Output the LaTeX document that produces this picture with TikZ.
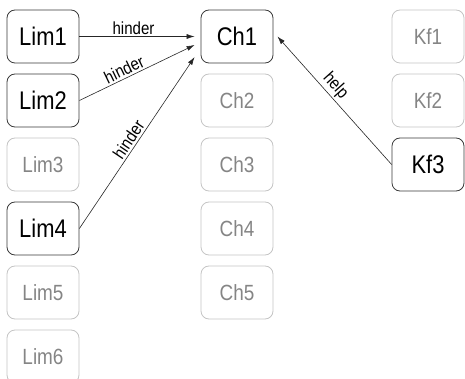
\documentclass[tikz,border=0pt]{standalone}
\usepackage{fontspec}
\setmainfont{Liberation Sans}[FakeStretch=0.86]
\usetikzlibrary{arrows.meta}
\definecolor{activeline}{HTML}{3A3A3A}
\definecolor{idleline}{HTML}{C4C4C4}
\definecolor{idletext}{HTML}{858585}
\tikzset{
  box/.style={rounded corners=8pt, minimum width=72pt, minimum height=53pt,
    inner sep=0pt, line width=0.8pt},
  active/.style={box, draw=activeline, text=black,
    font=\fontsize{25.5}{28}\selectfont},
  idle/.style={box, draw=idleline, text=idletext,
    font=\fontsize{22}{25}\selectfont},
  link/.style={draw=black!85, line width=0.6pt,
    -{Latex[length=8pt,width=5pt]}},
  tag/.style={font=\fontsize{17.5}{19}\selectfont, inner sep=2pt}
}
\begin{document}
\begin{tikzpicture}[x=1pt,y=-1pt]
\useasboundingbox (0,0) rectangle (465,379);
% left column
\node[active] (lim1) at (43,36.5)  {Lim1};
\node[active] (lim2) at (43,100.5) {Lim2};
\node[idle]   (lim3) at (43,164.5) {Lim3};
\node[active] (lim4) at (43,228.5) {Lim4};
\node[idle]   (lim5) at (43,292.5) {Lim5};
\node[idle]   (lim6) at (43,356.5) {Lim6};
% middle column
\node[active] (ch1) at (237,36.5)  {Ch1};
\node[idle]   (ch2) at (237,100.5) {Ch2};
\node[idle]   (ch3) at (237,164.5) {Ch3};
\node[idle]   (ch4) at (237,228.5) {Ch4};
\node[idle]   (ch5) at (237,292.5) {Ch5};
% right column
\node[idle]   (kf1) at (428,36.5)  {Kf1};
\node[idle]   (kf2) at (428,100.5) {Kf2};
\node[active] (kf3) at (428,164.5) {Kf3};
% relations
\draw[link] (lim1.east) -- node[tag, above, pos=0.47] {hinder} ([xshift=-6pt]ch1.west);
\draw[link] (lim2.east) -- node[tag, above, sloped, pos=0.42] {hinder} ([xshift=-6pt,yshift=-8.5pt]ch1.west);
\draw[link] (lim4.east) -- node[tag, above, sloped, pos=0.49] {hinder} ([xshift=-6pt,yshift=-20.5pt]ch1.west);
\draw[link] (kf3.west) -- node[tag, above, sloped, pos=0.56] {help} ([xshift=4pt]ch1.east);
\end{tikzpicture}
\end{document}
